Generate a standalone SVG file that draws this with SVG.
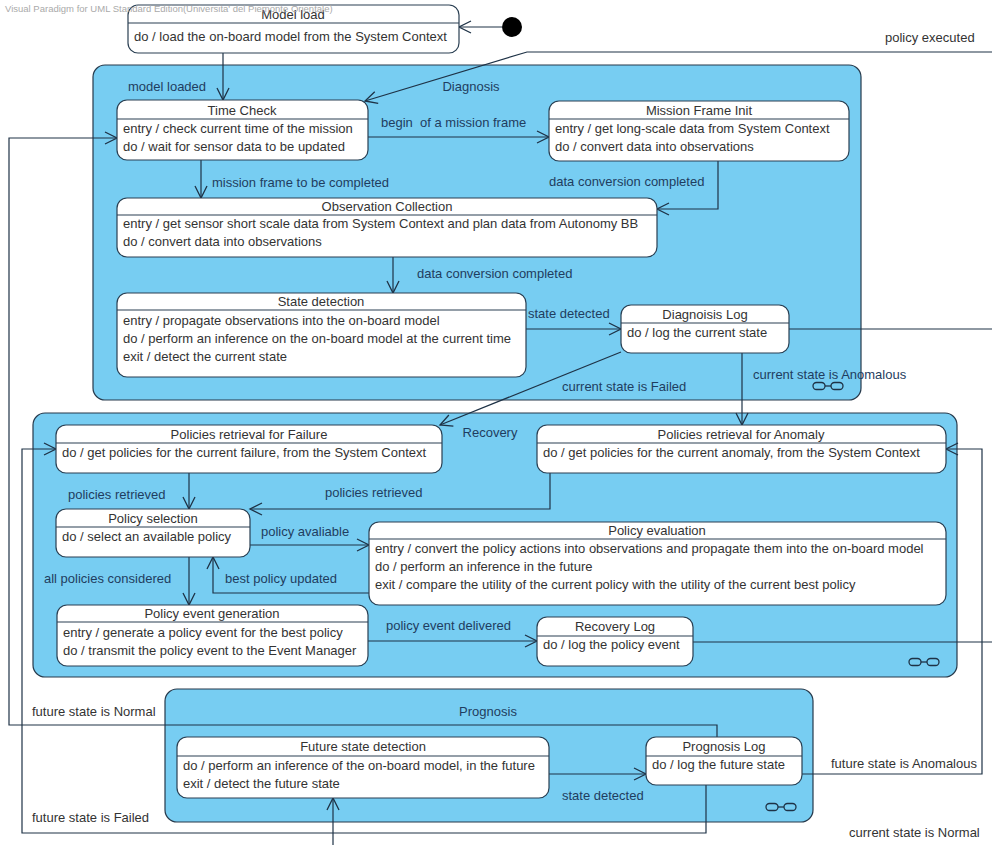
<svg xmlns="http://www.w3.org/2000/svg" xmlns:xlink="http://www.w3.org/1999/xlink" width="992" height="845" viewBox="0 0 992 845">
<style>
text{font-family:"Liberation Sans",Arial,sans-serif;font-size:13px;fill:#333}
.t{text-anchor:middle}
.lbl{fill:#1f3d60}
.out{fill:#333}
.comp{fill:#77cdf2;stroke:#26394b;stroke-width:1.2}
.st{fill:#fff;stroke:#2a3f52;stroke-width:1.2}
.hd{stroke:#2a3f52;stroke-width:1.2}
.e{fill:none;stroke:#1e3246;stroke-width:1.2}
.a{marker-end:url(#arr)}
.wm{font-size:9.5px;fill:#aaa}
.lk{fill:none;stroke:#1e3246;stroke-width:1.3}
</style>
<defs>
<marker id="arr" markerUnits="userSpaceOnUse" markerWidth="16" markerHeight="16" refX="13" refY="7" orient="auto">
<path d="M1,1 L13,7 L1,13" fill="none" stroke="#1e3246" stroke-width="1.3"/>
</marker>
<g id="link">
<rect x="0" y="-3.5" width="12" height="7" rx="3.5" class="lk"/>
<rect x="18" y="-3.5" width="12" height="7" rx="3.5" class="lk"/>
<line x1="12" y1="0" x2="18" y2="0" class="lk"/>
</g>
</defs>
<rect width="992" height="845" fill="#fff"/>

<g id="composites">
<g id="Diagnosis">
<rect class="comp" x="93" y="65" width="768" height="335" rx="12"/>
<text class="t lbl" x="471" y="91">Diagnosis</text>
<use xlink:href="#link" x="813" y="386"/>
</g>
<g id="Recovery">
<rect class="comp" x="33" y="413" width="924" height="264" rx="12"/>
<text class="t lbl" x="490" y="437">Recovery</text>
<use xlink:href="#link" x="909" y="662"/>
</g>
<g id="Prognosis">
<rect class="comp" x="165" y="689" width="648" height="133" rx="12"/>
<text class="t lbl" x="488" y="716">Prognosis</text>
<use xlink:href="#link" x="766" y="807"/>
</g>
</g>

<g id="connectors">
<path class="e a" d="M502,27 H459"/>
<path class="e a" d="M223,53 V100"/>
<path class="e a" d="M992,52 H527 L365,101"/>
<path class="e a" d="M368,137 H549"/>
<path class="e a" d="M201,160 V198"/>
<path class="e a" d="M718,161 V209 H657"/>
<path class="e a" d="M393,257 V293"/>
<path class="e a" d="M526,329 H621"/>
<path class="e a" d="M621,352 L440,425"/>
<path class="e a" d="M742,353 V425"/>
<path class="e" d="M789,329 H992"/>
<path class="e a" d="M189,473 V509"/>
<path class="e a" d="M550,473 V509 H250"/>
<path class="e a" d="M250,545 H369"/>
<path class="e a" d="M189,557 V605"/>
<path class="e a" d="M369,593 H213 V557"/>
<path class="e a" d="M368,641 H537"/>
<path class="e" d="M693,642 H992"/>
<path class="e a" d="M549,774 H646"/>
<path class="e a" d="M717,737 V725 H9 V138 H117"/>
<path class="e a" d="M706,785 V833 H22 V449 H56"/>
<path class="e a" d="M802,774 H982 V449 H946"/>
<path class="e a" d="M333,845 V798"/>
</g>

<g id="labels">
<text class="lbl" x="128" y="91">model loaded</text>
<text class="out" x="885" y="42">policy executed</text>
<text class="lbl" x="381" y="127" xml:space="preserve">begin  of a mission frame</text>
<text class="lbl" x="212" y="187">mission frame to be completed</text>
<text class="lbl" x="549" y="186">data conversion completed</text>
<text class="lbl" x="417" y="278">data conversion completed</text>
<text class="lbl" x="528" y="318">state detected</text>
<text class="lbl" x="562" y="391">current state is Failed</text>
<text class="lbl" x="753" y="379">current state is Anomalous</text>
<text class="lbl" x="68" y="499">policies retrieved</text>
<text class="lbl" x="325" y="497">policies retrieved</text>
<text class="lbl" x="261" y="536">policy avaliable</text>
<text class="lbl" x="44" y="583">all policies considered</text>
<text class="lbl" x="225" y="583">best policy updated</text>
<text class="lbl" x="386" y="630">policy event delivered</text>
<text class="out" x="32" y="716">future state is Normal</text>
<text class="out" x="32" y="822">future state is Failed</text>
<text class="lbl" x="562" y="800">state detected</text>
<text class="out" x="831" y="768">future state is Anomalous</text>
<text class="out" x="849" y="837">current state is Normal</text>
</g>

<g id="Initial">
<circle cx="512" cy="27" r="10" fill="#000"/>
</g>

<g id="ModelLoad">
<rect class="st" x="128" y="5" width="331" height="48" rx="10"/>
<line class="hd" x1="128" y1="23" x2="459" y2="23"/>
<text class="t" x="293" y="19">Model load</text>
<text x="134" y="41">do / load the on-board model from the System Context</text>
</g>

<g id="TimeCheck">
<rect class="st" x="117" y="100" width="251" height="60" rx="10"/>
<line class="hd" x1="117" y1="119" x2="368" y2="119"/>
<text class="t" x="242" y="115">Time Check</text>
<text x="123" y="133">entry / check current time of the mission</text>
<text x="123" y="151">do / wait for sensor data to be updated</text>
</g>

<g id="MissionFrameInit">
<rect class="st" x="549" y="101" width="300" height="60" rx="10"/>
<line class="hd" x1="549" y1="119" x2="849" y2="119"/>
<text class="t" x="699" y="115">Mission Frame Init</text>
<text x="555" y="133">entry / get long-scale data from System Context</text>
<text x="555" y="151">do / convert data into observations</text>
</g>

<g id="ObservationCollection">
<rect class="st" x="117" y="198" width="540" height="59" rx="10"/>
<line class="hd" x1="117" y1="215" x2="657" y2="215"/>
<text class="t" x="387" y="211">Observation Collection</text>
<text x="123" y="228">entry / get sensor short scale data from System Context and plan data from Autonomy BB</text>
<text x="123" y="246">do / convert data into observations</text>
</g>

<g id="StateDetection">
<rect class="st" x="117" y="293" width="409" height="84" rx="10"/>
<line class="hd" x1="117" y1="310" x2="526" y2="310"/>
<text class="t" x="321" y="306">State detection</text>
<text x="123" y="325">entry / propagate observations into the on-board model</text>
<text x="123" y="343">do / perform an inference on the on-board model at the current time</text>
<text x="123" y="361">exit / detect the current state</text>
</g>

<g id="DiagnosisLog">
<rect class="st" x="621" y="305" width="168" height="48" rx="10"/>
<line class="hd" x1="621" y1="323" x2="789" y2="323"/>
<text class="t" x="705" y="319">Diagnoisis Log</text>
<text x="627" y="337">do / log the current state</text>
</g>

<g id="PoliciesFailure">
<rect class="st" x="56" y="425" width="386" height="48" rx="10"/>
<line class="hd" x1="56" y1="443" x2="442" y2="443"/>
<text class="t" x="249" y="439">Policies retrieval for Failure</text>
<text x="62" y="457">do / get policies for the current failure, from the System Context</text>
</g>

<g id="PoliciesAnomaly">
<rect class="st" x="537" y="425" width="409" height="48" rx="10"/>
<line class="hd" x1="537" y1="443" x2="946" y2="443"/>
<text class="t" x="741" y="439">Policies retrieval for Anomaly</text>
<text x="543" y="457">do / get policies for the current anomaly, from the System Context</text>
</g>

<g id="PolicySelection">
<rect class="st" x="56" y="509" width="194" height="48" rx="10"/>
<line class="hd" x1="56" y1="527" x2="250" y2="527"/>
<text class="t" x="153" y="523">Policy selection</text>
<text x="62" y="541">do / select an available policy</text>
</g>

<g id="PolicyEvaluation">
<rect class="st" x="369" y="522" width="577" height="83" rx="10"/>
<line class="hd" x1="369" y1="539" x2="946" y2="539"/>
<text class="t" x="657" y="535">Policy evaluation</text>
<text x="375" y="553">entry / convert the policy actions into observations and propagate them into the on-board model</text>
<text x="375" y="571">do / perform an inference in the future</text>
<text x="375" y="589">exit / compare the utility of the current policy with the utility of the current best policy</text>
</g>

<g id="PolicyEventGeneration">
<rect class="st" x="57" y="605" width="311" height="61" rx="10"/>
<line class="hd" x1="57" y1="622" x2="368" y2="622"/>
<text class="t" x="212" y="618">Policy event generation</text>
<text x="63" y="637">entry / generate a policy event for the best policy</text>
<text x="63" y="655">do / transmit the policy event to the Event Manager</text>
</g>

<g id="RecoveryLog">
<rect class="st" x="537" y="617" width="156" height="49" rx="10"/>
<line class="hd" x1="537" y1="636" x2="693" y2="636"/>
<text class="t" x="615" y="631">Recovery Log</text>
<text x="543" y="649">do / log the policy event</text>
</g>

<g id="FutureStateDetection">
<rect class="st" x="177" y="737" width="372" height="61" rx="10"/>
<line class="hd" x1="177" y1="756" x2="549" y2="756"/>
<text class="t" x="363" y="751">Future state detection</text>
<text x="183" y="770">do / perform an inference of the on-board model, in the future</text>
<text x="183" y="788">exit / detect the future state</text>
</g>

<g id="PrognosisLog">
<rect class="st" x="646" y="737" width="156" height="48" rx="10"/>
<line class="hd" x1="646" y1="756" x2="802" y2="756"/>
<text class="t" x="724" y="751">Prognosis Log</text>
<text x="652" y="769">do / log the future state</text>
</g>

<text class="wm" x="5" y="12">Visual Paradigm for UML Standard Edition(Universita' del Piemonte Orientale)</text>
</svg>
